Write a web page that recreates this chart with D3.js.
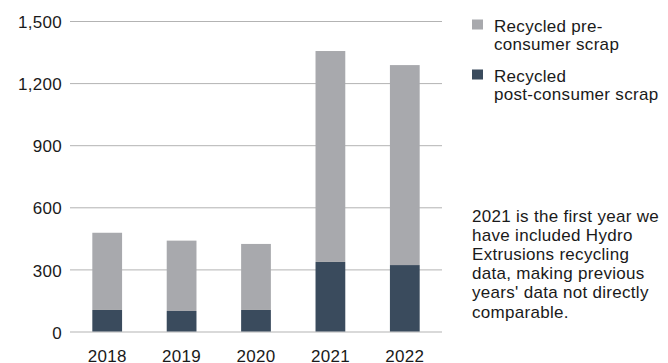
<!DOCTYPE html>
<html>
<head>
<meta charset="utf-8">
<script src="https://cdn.jsdelivr.net/npm/d3@7"></script>
<style>
  body { margin: 0; background: #fff; }
  text { font-family: "Liberation Sans", Arial, sans-serif; fill: #1a1a1a; letter-spacing: 0.3px; }
</style>
</head>
<body>
<div id="chart"></div>
<script>
//chart size
var width = 668;
var height = 363;

//data
var years = ["2018", "2019", "2020", "2021", "2022"];
var postConsumer = [104, 99, 104, 336, 321];
var preConsumer = [373, 340, 319, 1019, 966];
var yTicks = [0, 300, 600, 900, 1200, 1500];
var noteLines = ["2021 is the first year we", "have included Hydro",
                 "Extrusions recycling", "data, making previous",
                 "years' data not directly", "comparable."];

var colors = {pre: "#a8a9ad", post: "#3a4b5d"};

var margin = {top: 21, left: 70, right: 226, bottom: 31.5};

var svg = d3.select("#chart")
            .append("svg")
            .attr("width", width)
            .attr("height", height);

//x scale, one band per year
var xScale = d3.scaleBand()
               .domain(years)
               .range([margin.left, width - margin.right])
               .paddingInner(0.6)
               .paddingOuter(0.3);

//y scale
var yScale = d3.scaleLinear()
               .domain([0, 1500])
               .range([height - margin.bottom, margin.top]);

//gridlines
svg.append("g")
   .attr("transform", "translate(" + margin.left + ", 0)")
   .call(d3.axisLeft(yScale)
           .tickValues(yTicks)
           .tickSize(-(width - margin.right - margin.left))
           .tickFormat(""))
   .call(function(g) { g.select(".domain").remove(); })
   .selectAll("line")
   .attr("stroke", "#b3b3b3");

//y tick labels
svg.append("g")
   .selectAll("text")
   .data(yTicks)
   .enter()
   .append("text")
   .attr("x", 62)
   .attr("y", function(d) { return yScale(d) + 1; })
   .attr("dy", "0.36em")
   .attr("text-anchor", "end")
   .style("font-size", "17px")
   .text(function(d) { return d3.format(",")(d); });

//stack the data
var rows = years.map(function(y, i) {
  return {year: y, post: postConsumer[i], pre: preConsumer[i]};
});
var stacked = d3.stack().keys(["post", "pre"])(rows);

svg.append("g")
   .selectAll("g")
   .data(stacked)
   .enter()
   .append("g")
   .attr("fill", function(d) { return colors[d.key]; })
   .selectAll("rect")
   .data(function(d) { return d; })
   .enter()
   .append("rect")
   .attr("x", function(d) { return xScale(d.data.year); })
   .attr("width", xScale.bandwidth())
   .attr("y", function(d) { return yScale(d[1]); })
   .attr("height", function(d) { return yScale(d[0]) - yScale(d[1]); });

//x labels
svg.append("g")
   .selectAll("text")
   .data(years)
   .enter()
   .append("text")
   .attr("x", function(d) { return xScale(d) + xScale.bandwidth() / 2; })
   .attr("y", 362)
   .attr("text-anchor", "middle")
   .style("font-size", "17px")
   .text(function(d) { return d; });

//legend
var legendItems = [
  {color: colors.pre, lines: ["Recycled pre-", "consumer scrap"], y: 19.5},
  {color: colors.post, lines: ["Recycled", "post-consumer scrap"], y: 69.5}
];
var legend = svg.append("g")
                .selectAll("g")
                .data(legendItems)
                .enter()
                .append("g")
                .attr("transform", function(d) { return "translate(472, " + d.y + ")"; });
legend.append("rect")
      .attr("width", 11)
      .attr("height", 10)
      .attr("fill", function(d) { return d.color; });
legend.each(function(d) {
  var t = d3.select(this).append("text")
            .attr("x", 22)
            .attr("y", 12.5)
            .style("font-size", "17px");
  d.lines.forEach(function(line, i) {
    t.append("tspan").attr("x", 22).attr("dy", i === 0 ? 0 : 18).text(line);
  });
});

//note
var note = svg.append("text")
              .attr("x", 472)
              .attr("y", 221.5)
              .style("font-size", "17px");
note.selectAll("tspan")
    .data(noteLines)
    .enter()
    .append("tspan")
    .attr("x", 472)
    .attr("dy", function(d, i) { return i === 0 ? 0 : 19.2; })
    .text(function(d) { return d; });
</script>
</body>
</html>
